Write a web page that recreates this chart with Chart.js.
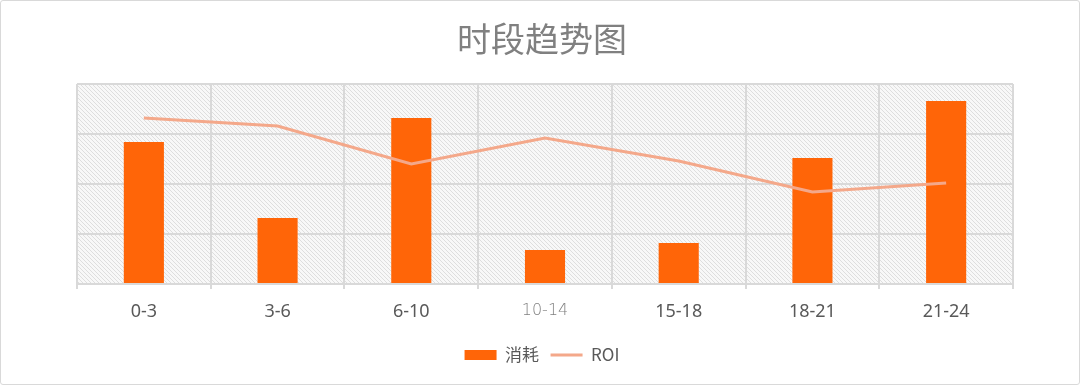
<!DOCTYPE html>
<html>
<head>
<meta charset="utf-8">
<script src="https://cdn.jsdelivr.net/npm/chart.js@4/dist/chart.umd.min.js"></script>
<style>
  html, body { margin: 0; padding: 0; background: #fff; }
  #wrap {
    width: 1080px; height: 385px; box-sizing: border-box;
    border: 1px solid #d9d9d9; border-radius: 3px; position: relative;
  }
  canvas { display: block; }
</style>
</head>
<body>
<div id="wrap"><canvas id="timeChart" width="1078" height="383"></canvas></div>
<script>
// Data
const categories = ['0-3', '3-6', '6-10', '10-14', '15-18', '18-21', '21-24'];
const spendValues = [2.84, 1.32, 3.32, 0.68, 0.82, 2.52, 3.66];   // 消耗
const roiValues = [3.32, 3.16, 2.40, 2.92, 2.46, 1.84, 2.02];     // ROI

const BAR_COLOR = '#FF6508';
const LINE_COLOR = '#F4A88A';
const GRID_COLOR = '#d9d9d9';
const LABEL_COLOR = '#595959';

/**
 * Light diagonal hatch used as the plot-area background
 */
function makeHatch() {
    const c = document.createElement('canvas');
    c.width = 4;
    c.height = 4;
    const g = c.getContext('2d');
    g.fillStyle = '#f8f8f8';
    g.fillRect(0, 0, 4, 4);
    g.strokeStyle = '#dedede';
    g.lineWidth = 1;
    g.beginPath();
    g.moveTo(0, 0);
    g.lineTo(4, 4);
    g.moveTo(-1, 3);
    g.lineTo(1, 5);
    g.moveTo(3, -1);
    g.lineTo(5, 1);
    g.stroke();
    return g.createPattern(c, 'repeat');
}

const hatchBackground = {
    id: 'hatchBackground',
    beforeDraw(chart) {
        const { ctx, chartArea } = chart;
        ctx.save();
        ctx.fillStyle = makeHatch();
        ctx.fillRect(chartArea.left, chartArea.top,
            chartArea.right - chartArea.left, chartArea.bottom - chartArea.top);
        ctx.restore();
    }
};

const ctx = document.getElementById('timeChart').getContext('2d');
new Chart(ctx, {
    data: {
        labels: categories,
        datasets: [
            {
                type: 'bar',
                label: '消耗',
                data: spendValues,
                backgroundColor: BAR_COLOR,
                barPercentage: 0.3,
                categoryPercentage: 1,
                yAxisID: 'y',
                order: 2
            },
            {
                type: 'line',
                label: 'ROI',
                data: roiValues,
                borderColor: LINE_COLOR,
                backgroundColor: LINE_COLOR,
                borderWidth: 3,
                pointRadius: 0,
                tension: 0,
                yAxisID: 'y1',
                order: 1
            }
        ]
    },
    options: {
        responsive: false,
        animation: false,
        // title and legend span the whole picture; the plot is inset by the (blank) axes
        layout: { padding: { left: 4, right: 0, top: 0, bottom: 10.5 } },
        plugins: {
            title: {
                display: true,
                text: '时段趋势图',
                color: '#808080',
                font: { family: '"Noto Sans CJK SC", "Noto Sans"', size: 34, weight: 'normal' },
                padding: { top: 17.6, bottom: 24.6 }
            },
            legend: {
                position: 'bottom',
                labels: {
                    usePointStyle: true,
                    pointStyleWidth: 32,
                    boxHeight: 10,
                    padding: 11.5,
                    color: LABEL_COLOR,
                    font: { family: '"Noto Sans CJK SC", "Noto Sans"', size: 17 },
                    sort: (a, b) => a.datasetIndex - b.datasetIndex,
                    generateLabels(chart) {
                        return chart.data.datasets.map((ds, i) => ({
                            text: ds.label,
                            fillStyle: ds.type === 'bar' ? BAR_COLOR : LINE_COLOR,
                            strokeStyle: ds.type === 'bar' ? BAR_COLOR : LINE_COLOR,
                            lineWidth: ds.type === 'bar' ? 0 : 3,
                            pointStyle: ds.type === 'bar' ? 'rect' : 'line',
                            fontColor: LABEL_COLOR,
                            datasetIndex: i
                        }));
                    }
                }
            },
            tooltip: { enabled: false }
        },
        scales: {
            x: {
                offset: true,
                afterFit: (scale) => { scale.height = 51; },
                grid: {
                    offset: true,
                    color: GRID_COLOR,
                    lineWidth: 2,
                    tickLength: 5
                },
                border: { color: GRID_COLOR, width: 2 },
                ticks: {
                    padding: 12,
                    color: (c) => c.index === 3 ? '#808080' : LABEL_COLOR,
                    font: (c) => c.index === 3
                        ? { family: '"DejaVu Sans"', size: 16, weight: 200 }
                        : { family: '"Noto Sans", "Noto Sans CJK SC"', size: 18 }
                }
            },
            y: {
                min: 0,
                max: 4,
                afterFit: (scale) => { scale.width = 72; },
                ticks: { display: false, stepSize: 1 },
                grid: { color: GRID_COLOR, lineWidth: 2, drawTicks: false },
                border: { display: false }
            },
            y1: {
                position: 'right',
                min: 0,
                max: 4,
                afterFit: (scale) => { scale.width = 66; },
                ticks: { display: false },
                grid: { display: false },
                border: { display: false }
            }
        }
    },
    plugins: [hatchBackground]
});
</script>
</body>
</html>
